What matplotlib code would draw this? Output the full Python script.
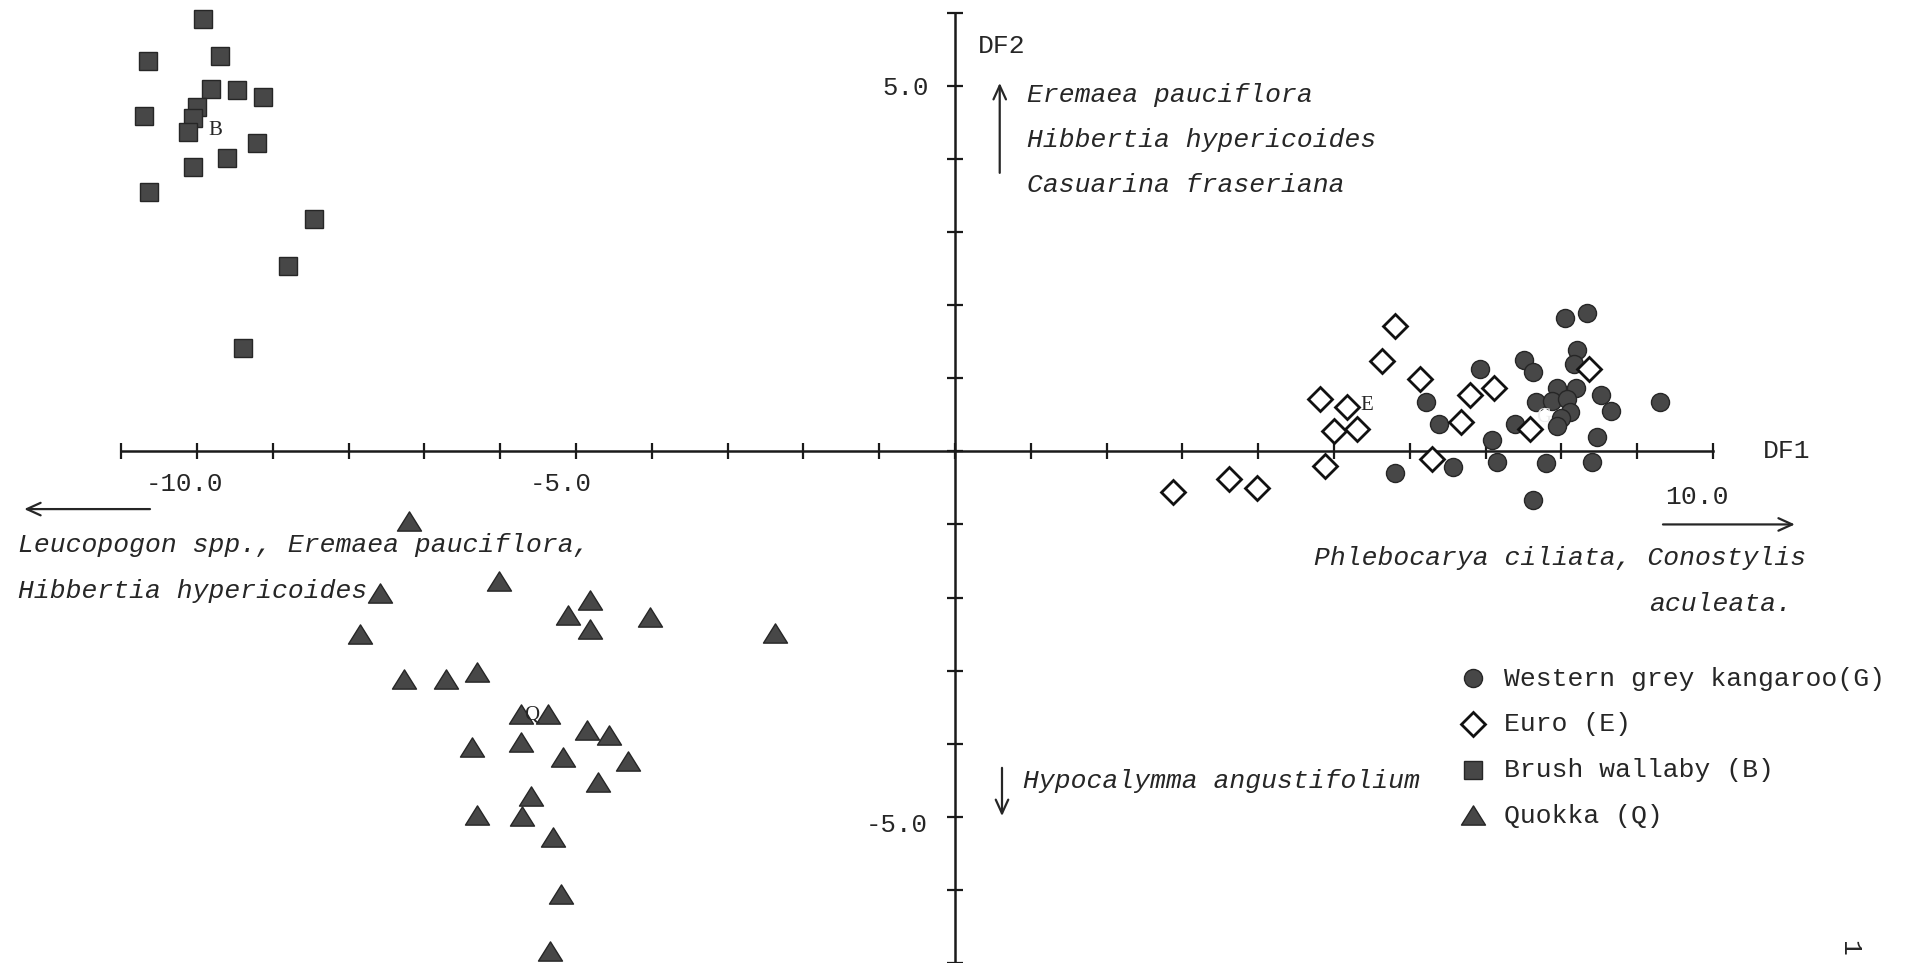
import matplotlib
matplotlib.use("Agg")
import matplotlib.pyplot as plt
from matplotlib.path import Path
from matplotlib.patches import FancyArrowPatch

# ---- discriminant scores (DF1, DF2) per herbivore group ----
kangaroo_df1 = [8.05, 8.34, 6.93, 7.51, 7.62, 8.21, 8.17, 6.21, 6.39, 7.67,
                7.94, 8.19, 7.87, 8.07, 8.12, 8.00, 7.94, 7.39, 8.52, 8.66,
                8.47, 7.09, 9.30, 5.81, 6.57, 7.15, 7.80, 8.41, 7.62]
kangaroo_df2 = [1.82, 1.89, 1.13, 1.25, 1.08, 1.38, 1.19, 0.67, 0.38, 0.67,
                0.86, 0.86, 0.69, 0.71, 0.54, 0.46, 0.34, 0.37, 0.77, 0.55,
                0.20, 0.15, 0.67, -0.29, -0.21, -0.15, -0.16, -0.15, -0.66]

euro_df1 = [2.88, 3.61, 3.98, 4.88, 4.82, 5.17, 5.00, 5.31, 5.80, 5.63,
            6.13, 6.80, 7.11, 6.68, 7.58, 8.36, 6.29]
euro_df2 = [-0.56, -0.38, -0.50, -0.20, 0.72, 0.61, 0.28, 0.30, 1.71, 1.23,
            0.99, 0.77, 0.86, 0.40, 0.30, 1.13, -0.11]

wallaby_df1 = [-9.92, -10.65, -9.70, -9.82, -9.47, -9.13, -10.70, -10.00,
               -10.05, -10.12, -9.21, -9.60, -10.05, -10.63, -8.46, -8.80, -9.39]
wallaby_df2 = [5.92, 5.34, 5.41, 4.96, 4.95, 4.85, 4.59, 4.71,
               4.56, 4.37, 4.22, 4.02, 3.89, 3.55, 3.18, 2.54, 1.42]

quokka_df1 = [-7.20, -6.02, -7.58, -4.82, -5.11, -4.02, -4.82, -2.37, -7.85,
              -7.27, -6.71, -6.31, -5.73, -5.37, -4.85, -4.56, -6.37, -5.73,
              -5.17, -4.32, -4.71, -5.60, -6.30, -5.71, -5.30, -5.20, -5.34]
quokka_df2 = [-0.95, -1.78, -1.94, -2.04, -2.24, -2.26, -2.43, -2.48, -2.50,
              -3.12, -3.12, -3.02, -3.60, -3.60, -3.81, -3.88, -4.05, -3.98,
              -4.18, -4.23, -4.52, -4.71, -4.97, -4.99, -5.27, -6.06, -6.83]

# group centroid letters
centroid_letters = ["G", "E", "B", "Q"]
centroid_df1 = [7.76, 5.43, -9.76, -5.58]
centroid_df2 = [0.46, 0.63, 4.39, -3.62]

legend_labels = ["Western grey kangaroo(G)", "Euro (E)",
                 "Brush wallaby (B)", "Quokka (Q)"]

x_tick_values = list(range(-11, 11))
y_tick_values = list(range(-7, 7))

# ---- styling ----
INK = "#262626"
FILL = "#474747"
MONO = "Liberation Mono"
FS = 19

tri = Path([(-1.0, -0.8), (1.0, -0.8), (0.0, 0.8), (-1.0, -0.8)],
           [Path.MOVETO, Path.LINETO, Path.LINETO, Path.CLOSEPOLY])

styles = [
    dict(marker="o", markersize=13, markerfacecolor=FILL, markeredgecolor="#262626", markeredgewidth=1.0),
    dict(marker="D", markersize=11.8, markerfacecolor="white", markeredgecolor="#111111", markeredgewidth=2.0),
    dict(marker="s", markersize=13.5, markerfacecolor=FILL, markeredgecolor="#262626", markeredgewidth=1.0),
    dict(marker=tri, markersize=17.3, markerfacecolor=FILL, markeredgecolor="#262626", markeredgewidth=1.0),
]
groups = [(kangaroo_df1, kangaroo_df2), (euro_df1, euro_df2),
          (wallaby_df1, wallaby_df2), (quokka_df1, quokka_df2)]

# ---- canvas: one axes over the whole figure, origin-centred axes ----
W, H, DPI = 1906, 963, 100
X0PX, Y0PX = 955.0, 452.0     # pixel position of the origin
XU, YU = 75.8, 73.2            # pixels per unit on DF1 / DF2

fig = plt.figure(figsize=(W / DPI, H / DPI), dpi=DPI)
ax = fig.add_axes([0, 0, 1, 1])
ax.set_xlim(-X0PX / XU, (W - X0PX) / XU)
ax.set_ylim(-(H - Y0PX) / YU, Y0PX / YU)
ax.patch.set_alpha(0)

for side in ("top", "right"):
    ax.spines[side].set_visible(False)
ax.spines["left"].set_position(("data", 0))
ax.spines["bottom"].set_position(("data", 0))
ax.spines["bottom"].set_bounds(x_tick_values[0], x_tick_values[-1])
ax.spines["left"].set_bounds(y_tick_values[0], y_tick_values[-1])
for side in ("left", "bottom"):
    ax.spines[side].set_linewidth(1.8)
    ax.spines[side].set_color("#1a1a1a")
ax.set_xticks(x_tick_values)
ax.set_yticks(y_tick_values)
ax.tick_params(direction="inout", length=11, width=1.6, colors="#1a1a1a",
               labelbottom=False, labelleft=False)

# ---- points ----
for (xs, ys), st in zip(groups, styles):
    ax.plot(xs, ys, linestyle="none", zorder=3, **st)

# centroid letters
for letter, cx, cy in zip(centroid_letters, centroid_df1, centroid_df2):
    colour = "#ececec" if letter == "G" else INK
    ax.text(cx, cy, letter, family="Liberation Serif", size=15, color=colour,
            ha="center", va="center", zorder=4)

# ---- axis labels and tick numbers ----
ax.text(0.30, 5.54, "DF2", family=MONO, size=FS, color=INK, ha="left", va="center")
ax.text(10.66, 0.0, "DF1", family=MONO, size=FS, color=INK, ha="left", va="center")
ax.text(-10.16, -0.45, "-10.0", family=MONO, size=18.5, color=INK, ha="center", va="center")
ax.text(-5.20, -0.45, "-5.0", family=MONO, size=18.5, color=INK, ha="center", va="center")
ax.text(9.79, -0.63, "10.0", family=MONO, size=FS, color=INK, ha="center", va="center")
ax.text(-0.34, 4.97, "5.0", family=MONO, size=18.5, color=INK, ha="right", va="center")
ax.text(-0.36, -5.11, "-5.0", family=MONO, size=18.5, color=INK, ha="right", va="center")


def arrow(p0, p1, scale=18):
    ax.add_patch(FancyArrowPatch(p0, p1, arrowstyle="->,head_length=0.55,head_width=0.25",
                                 mutation_scale=scale, lw=1.6, color=INK,
                                 shrinkA=0, shrinkB=0))


# ---- loading annotations ----
arrow((0.59, 3.81), (0.59, 5.04))
for i, name in enumerate(["Eremaea pauciflora", "Hibbertia hypericoides",
                          "Casuarina fraseriana"]):
    ax.text(0.95, 4.88 - 0.615 * i, name, family=MONO, style="italic", size=FS,
            color=INK, ha="left", va="center")

arrow((0.62, -4.33), (0.62, -4.99))
ax.text(0.90, -4.51, "Hypocalymma angustifolium", family=MONO, style="italic",
        size=FS, color=INK, ha="left", va="center")

arrow((-10.62, -0.79), (-12.28, -0.79))
ax.text(-12.36, -1.28, "Leucopogon spp., Eremaea pauciflora,", family=MONO,
        style="italic", size=FS, color=INK, ha="left", va="center")
ax.text(-12.36, -1.91, "Hibbertia hypericoides", family=MONO, style="italic",
        size=FS, color=INK, ha="left", va="center")

arrow((9.34, -1.0), (11.08, -1.0))
ax.text(4.74, -1.46, "Phlebocarya ciliata, Conostylis", family=MONO,
        style="italic", size=FS, color=INK, ha="left", va="center")
ax.text(9.16, -2.09, "aculeata.", family=MONO, style="italic", size=FS,
        color=INK, ha="left", va="center")

# ---- key ----
key_x, key_text_x = 6.83, 7.24
key_y0, key_step = -3.105, -0.625
for i, (label, st) in enumerate(zip(legend_labels, styles)):
    ky = key_y0 + key_step * i
    ax.plot([key_x], [ky], linestyle="none", zorder=3, **st)
    ax.text(key_text_x, ky - 0.10, label, family=MONO, size=FS, color=INK,
            ha="left", va="baseline")

# page number
ax.text(11.80, -6.80, "1", family=MONO, size=FS, color=INK, rotation=270,
        ha="center", va="center")

fig.savefig("out.png", dpi=DPI, facecolor="white")
